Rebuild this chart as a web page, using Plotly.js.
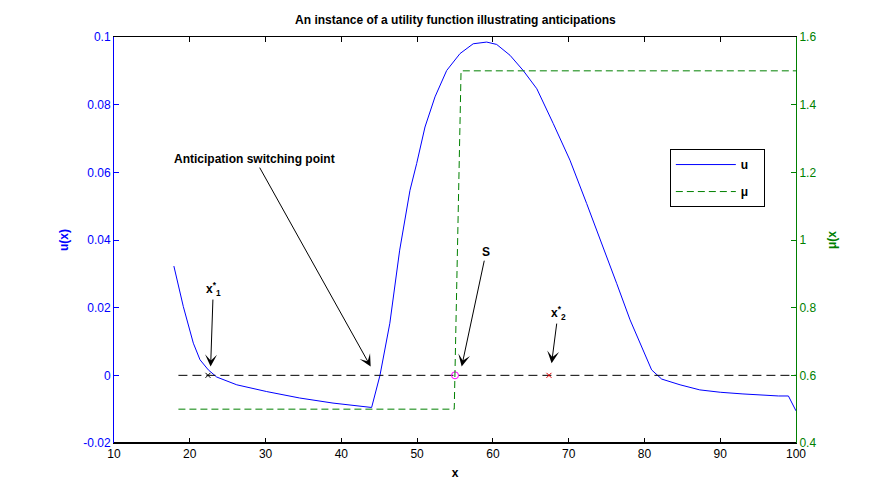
<!DOCTYPE html>
<html>
<head>
<meta charset="utf-8">
<script src="https://cdn.plot.ly/plotly-3.0.1.min.js"></script>
<style>html,body{margin:0;padding:0;background:#fff;}#chart{width:880px;height:499px;}</style>
</head>
<body>
<div id="chart"></div>
<script>
// Utility function u(x)
const uX = [17.9,19.15,20.47,21.35,22.45,23.55,26.2,30.15,34.5,38.9,44.0,45.1,46.4,47.7,49.06,49.94,51.04,52.36,53.9,55.66,57.4,59.18,60.5,62.26,64.0,65.8,67.97,70.17,72.37,74.57,76.33,78.1,79.85,80.95,82.27,84.7,87.3,90.0,93.0,94.8,97.7,99.0,100];
const uY = [0.0323,0.0203,0.0095,0.0046,0.0016,-0.0005,-0.0028,-0.0048,-0.0067,-0.0082,-0.0095,0.0,0.0154,0.037,0.0547,0.0626,0.0734,0.0823,0.0901,0.0951,0.098,0.0985,0.0978,0.0946,0.0901,0.0847,0.0744,0.0636,0.0508,0.038,0.0272,0.0164,0.0075,0.0016,-0.0011,-0.0028,-0.0043,-0.005,-0.0055,-0.0058,-0.0061,-0.0061,-0.0105];
// Anticipation mu(x)
const muX = [18.5,54.9,55.8,100];
const muY = [0.5,0.5,1.5,1.5];
// zero reference line
const zeroX = [18.5,100];
const zeroY = [0,0];
// special points
const x1Star = 22.4, sPoint = 55.0, x2Star = 67.4;
// tick labels
const xTicks = [10,20,30,40,50,60,70,80,90,100];
const uTickVals = [-0.02,0,0.02,0.04,0.06,0.08,0.1];
const uTickText = ["-0.02","0","0.02","0.04","0.06","0.08","0.1"];
const muTickVals = [0.4,0.6,0.8,1,1.2,1.4,1.6];
const muTickText = ["0.4","0.6","0.8","1","1.2","1.4","1.6"];
// annotations: [label, textX, textY, tipX, tipY]
const labels = [
  ["x<sup>*</sup><sub>1</sub>", 23.1, 0.0255, 22.75, 0.0026],
  ["Anticipation switching point", 28.6, 0.0639, 43.87, 0.0026],
  ["S", 59.1, 0.0364, 55.88, 0.0026],
  ["x<sup>*</sup><sub>2</sub>", 68.6, 0.0184, 67.75, 0.0036]
];

const FONT = "Liberation Sans, Arial, sans-serif";
const GREEN = "#008000";

const traces = [
  {x:uX, y:uY, type:"scatter", mode:"lines", name:"<b>u</b>\u00a0\u00a0\u00a0", line:{color:"#0000ff", width:1}, legendgroup:"a", yaxis:"y"},
  {x:muX, y:muY, type:"scatter", mode:"lines", name:"<b>μ</b>\u00a0\u00a0\u00a0", line:{color:GREEN, width:1, dash:"7px,4px"}, legendgroup:"b", yaxis:"y2"},
  {x:zeroX, y:zeroY, type:"scatter", mode:"lines", showlegend:false, line:{color:"#000", width:1, dash:"9px,5px"}, yaxis:"y"},
  {x:[x1Star], y:[0], type:"scatter", mode:"markers", showlegend:false, marker:{symbol:"x-thin-open", size:5, color:"#000", line:{color:"#000", width:1}}},
  {x:[x2Star], y:[0], type:"scatter", mode:"markers", showlegend:false, marker:{symbol:"x-thin-open", size:5, color:"#e00000", line:{color:"#e00000", width:1}}},
  {x:[sPoint], y:[0], type:"scatter", mode:"markers", showlegend:false, marker:{symbol:"circle-open", size:7, color:"#ff00ff", line:{color:"#ff00ff", width:1}}}
];

const annotations = labels.map(l => ({x:l[3], y:l[4], ax:l[1], ay:l[2], xref:"x", yref:"y", axref:"x", ayref:"y",
  text:l[0], showarrow:true, arrowhead:3, arrowsize:2, arrowwidth:1, arrowcolor:"#000",
  font:{family:FONT, size:12, color:"#000", weight:"bold"}}));

const layout = {
  width:880, height:499,
  margin:{l:114, r:84, t:37, b:56},
  paper_bgcolor:"#fff", plot_bgcolor:"#fff",
  font:{family:FONT, size:12, color:"#000"},
  title:{text:"An instance of a utility function illustrating anticipations", x:0.5175, xanchor:"center", y:0.96, yanchor:"middle",
    font:{family:FONT, size:12, color:"#000", weight:"bold"}},
  showlegend:true,
  legend:{x:0.815, y:0.724, xanchor:"left", yanchor:"top", bgcolor:"#fff", bordercolor:"#000", borderwidth:1,
    font:{family:FONT, size:12, color:"#000"}, traceorder:"grouped", tracegroupgap:8, itemwidth:60},
  xaxis:{range:[10,100], tickvals:xTicks, ticks:"inside", ticklen:5, tickcolor:"#000", showline:true, linecolor:"#000", linewidth:1,
    mirror:"ticks", showgrid:false, zeroline:false, tickfont:{family:FONT, size:12, color:"#000"},
    title:{text:"x", font:{family:FONT, size:12, color:"#000", weight:"bold"}, standoff:8}},
  yaxis:{range:[-0.02,0.1], tickvals:uTickVals, ticktext:uTickText, ticks:"inside", ticklen:5, tickcolor:"#0000ff",
    showline:true, linecolor:"#0000ff", linewidth:1, showgrid:false, zeroline:false,
    tickfont:{family:FONT, size:12, color:"#0000ff"},
    title:{text:"u(x)", font:{family:FONT, size:12, color:"#0000ff", weight:"bold"}, standoff:12}},
  yaxis2:{range:[0.4,1.6], overlaying:"y", side:"right", tickvals:muTickVals, ticktext:muTickText, ticks:"inside", ticklen:5,
    tickcolor:GREEN, showline:true, linecolor:GREEN, linewidth:1, showgrid:false, zeroline:false,
    tickfont:{family:FONT, size:12, color:GREEN},
    title:{text:"μ(x", font:{family:FONT, size:12, color:GREEN, weight:"bold"}, standoff:12}},
  shapes:[{type:"line", xref:"paper", yref:"paper", x0:0, x1:1, y0:0, y1:0, line:{color:"#000", width:2}}],
  annotations:annotations
};

Plotly.newPlot("chart", traces, layout, {displayModeBar:false, staticPlot:true});
</script>
</body>
</html>
